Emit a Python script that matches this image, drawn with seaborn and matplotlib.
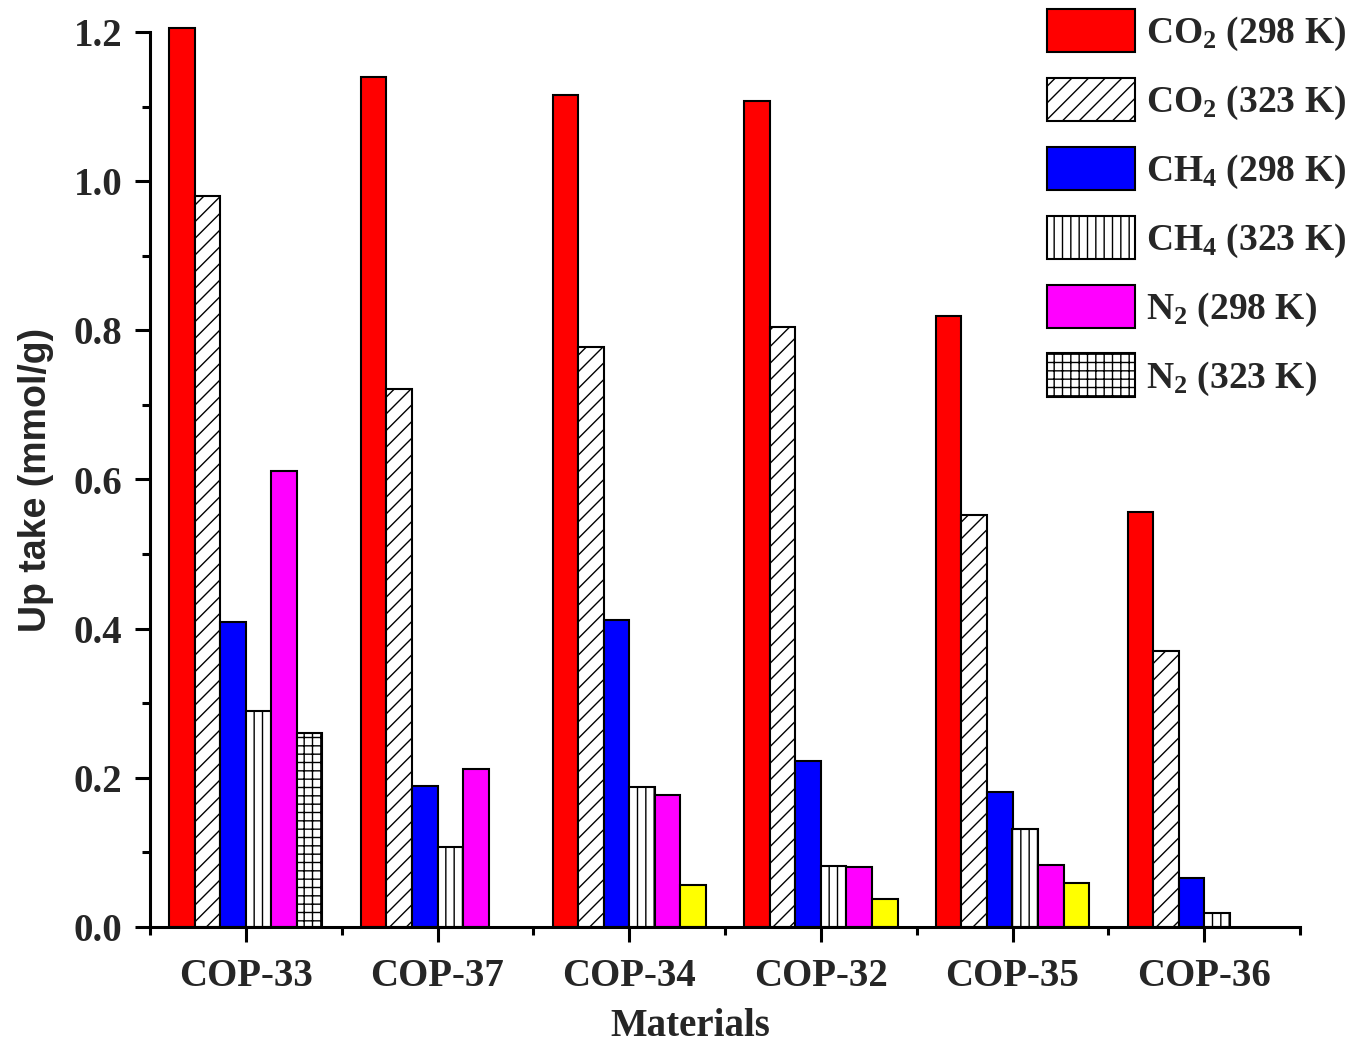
import numpy as np
import pandas as pd
import matplotlib
matplotlib.use("Agg")
import matplotlib.pyplot as plt
import seaborn as sns
from matplotlib.patches import Patch
from matplotlib.ticker import MultipleLocator, FixedLocator

# ---------------- data ----------------
materials = ["COP-33", "COP-37", "COP-34", "COP-32", "COP-35", "COP-36"]
series_labels = [r"CO$_2$ (298 K)", r"CO$_2$ (323 K)", r"CH$_4$ (298 K)",
                 r"CH$_4$ (323 K)", r"N$_2$ (298 K)", r"N$_2$ (323 K)"]
co2_298 = [1.205, 1.140, 1.115, 1.107, 0.819, 0.557]
co2_323 = [0.980, 0.722, 0.777, 0.804, 0.553, 0.370]
ch4_298 = [0.409, 0.189, 0.412, 0.223, 0.181, 0.066]
ch4_323 = [0.289, 0.107, 0.188, 0.082, 0.132, 0.019]
n2_298 = [0.611, 0.212, 0.177, 0.081, 0.083, 0.0]
n2_323 = [0.260, 0.0, 0.056, 0.038, 0.059, 0.0]

all_series = [co2_298, co2_323, ch4_298, ch4_323, n2_298, n2_323]
rows = []
for lab, vals in zip(series_labels, all_series):
    for m, v in zip(materials, vals):
        rows.append({"Material": m, "Series": lab, "Uptake": v})
df = pd.DataFrame(rows)

# styles
facecolors = ["#ff0000", "white", "#0000ff", "white", "#ff00ff", "white"]
hatches = [None, "//", None, "||", None, "++"]
yellow = "#ffff00"

sns.set_theme(style="ticks")
plt.rcParams["font.family"] = ["Liberation Serif", "DejaVu Serif"]
plt.rcParams["font.weight"] = "bold"
plt.rcParams["mathtext.fontset"] = "custom"
plt.rcParams["mathtext.rm"] = "Liberation Serif:bold"
plt.rcParams["mathtext.it"] = "Liberation Serif:bold"
plt.rcParams["mathtext.bf"] = "Liberation Serif:bold"
plt.rcParams["hatch.linewidth"] = 1.0
plt.rcParams["hatch.color"] = "black"

W, H = 1372, 1044
fig = plt.figure(figsize=(W / 100, H / 100), dpi=100)
ax = fig.add_axes([150 / W, 1 - 927 / H, 1150 / W, 895 / H])

sns.barplot(data=df, x="Material", y="Uptake", hue="Series",
            order=materials, hue_order=series_labels,
            palette=facecolors, saturation=1, width=0.8,
            edgecolor="black", linewidth=1.5, errorbar=None,
            legend=False, ax=ax)

for i, cont in enumerate(ax.containers):
    for j, bar in enumerate(cont.patches):
        bar.set_edgecolor("black")
        bar.set_linewidth(1.5)
        bar.set_clip_on(False)
        if hatches[i]:
            bar.set_hatch(hatches[i])
        if i == 5 and j > 0:
            bar.set_facecolor(yellow)
            bar.set_hatch(None)
        if bar.get_height() == 0:
            bar.set_visible(False)

ax.set_xlim(-0.5, 5.5)
ax.set_ylim(0, 1.2)
ax.yaxis.set_major_locator(MultipleLocator(0.2))
ax.yaxis.set_minor_locator(MultipleLocator(0.1))
ax.xaxis.set_minor_locator(FixedLocator(np.arange(-0.5, 6.0, 1.0)))

for s in ["top", "right"]:
    ax.spines[s].set_visible(False)
for s in ["left", "bottom"]:
    ax.spines[s].set_linewidth(2.2)
    ax.spines[s].set_color("black")

ax.tick_params(axis="both", which="major", direction="out", length=11,
               width=2.2, color="black", labelsize=28)
ax.tick_params(axis="both", which="minor", direction="out", length=5.5,
               width=2.2, color="black")
ax.tick_params(axis="y", which="major", pad=9)
ax.tick_params(axis="x", which="major", pad=11)
for t in ax.get_xticklabels() + ax.get_yticklabels():
    t.set_fontweight("bold")

ax.set_xlabel("Materials", fontsize=28, fontweight="bold")
ax.xaxis.set_label_coords((690 - 150) / 1150, (927 - 1008) / 895)
ax.set_ylabel("Up take (mmol/g)", fontsize=27, fontweight="bold",
              fontfamily=["Liberation Sans", "DejaVu Sans"])
ax.yaxis.set_label_coords((54 - 150) / 1150, 0.5)

handles = []
for i in range(6):
    handles.append(Patch(facecolor=facecolors[i], edgecolor="black",
                         hatch=hatches[i], linewidth=1.5))
leg = ax.legend(handles, series_labels, loc="upper left",
                bbox_to_anchor=(1047 / W, 1 - 9 / H),
                bbox_transform=fig.transFigure, frameon=False,
                prop={"family": "Liberation Serif", "weight": "bold", "size": 27},
                handlelength=2.35, handleheight=1.39, handletextpad=0.3,
                labelspacing=0.66, borderpad=0, borderaxespad=0)

fig.savefig("out.png", dpi=100)
